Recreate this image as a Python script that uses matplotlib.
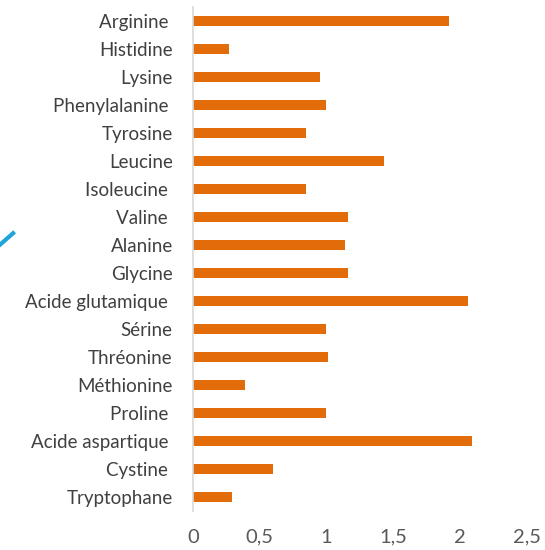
import matplotlib

matplotlib.use('Agg')
import matplotlib.pyplot as plt
from matplotlib.lines import Line2D

amino_acids = [
    "Arginine ", "Histidine", "Lysine", "Phenylalanine ", "Tyrosine",
    "Leucine", "Isoleucine ", "Valine ", "Alanine", "Glycine",
    "Acide glutamique ", "Sérine", "Thréonine", "Méthionine", "Proline ",
    "Acide aspartique ", "Cystine ", "Tryptophane",
]
values = [
    1.92, 0.27, 0.95, 1.0, 0.85,
    1.43, 0.85, 1.16, 1.14, 1.16,
    2.06, 1.0, 1.015, 0.39, 1.0,
    2.09, 0.6, 0.29,
]
x_ticks = [0, 0.5, 1, 1.5, 2, 2.5]
x_tick_labels = ["0", "0,5", "1", "1,5", "2", "2,5"]

plt.rcParams['font.family'] = ['Lato', 'DejaVu Sans']

fig = plt.figure(figsize=(5.45, 5.5), dpi=100)
ax = fig.add_axes([0.354, 0.0715, 0.6124, 0.9155])

positions = list(range(len(amino_acids)))[::-1]
ax.barh(positions, values, height=0.36, color='#E36C0A')

ax.set_xlim(0, 2.5)
ax.set_ylim(-0.5, len(amino_acids) - 0.5)
ax.set_yticks(positions)
ax.set_yticklabels(amino_acids, fontsize=13.5, color='#404040')
ax.set_xticks(x_ticks)
ax.set_xticklabels(x_tick_labels, fontsize=14.5, color='#595959')
ax.tick_params(axis='y', length=0, pad=14.5)
ax.tick_params(axis='x', length=0, pad=13)

for side in ['top', 'right', 'bottom']:
    ax.spines[side].set_visible(False)
ax.spines['left'].set_color('#d9d9d9')
ax.spines['left'].set_linewidth(1.2)

# bit of a blue arrow cut off at the left edge
fig.add_artist(Line2D([0.0, 0.024], [0.555, 0.576], color='#1fa3d8',
                      linewidth=3, transform=fig.transFigure))

fig.savefig('out.png', dpi=100)
